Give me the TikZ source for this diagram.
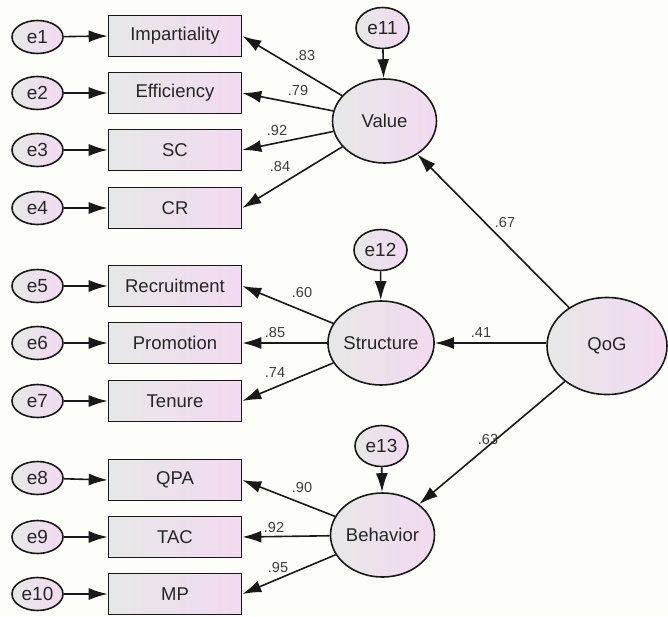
\documentclass[tikz,border=0pt]{standalone}
\usepackage{fontspec}
\setmainfont{Liberation Sans}
\usetikzlibrary{arrows.meta,shapes.geometric}
\definecolor{fillL}{RGB}{230,232,231}
\definecolor{fillR}{RGB}{243,218,241}
\definecolor{bg}{RGB}{253,253,249}
\definecolor{coefc}{RGB}{60,60,60}
\begin{document}
\begin{tikzpicture}[x=1pt,y=-1pt,
  base/.style={draw=black!90, line width=1.6pt, left color=fillL, right color=fillR, inner sep=0pt, text=black!85},
  obs/.style={base, rectangle, minimum width=133pt, minimum height=41pt, font=\fontsize{18.5}{21}\selectfont},
  err/.style={base, ellipse, minimum width=51pt, minimum height=33pt, font=\fontsize{19}{21}\selectfont},
  errt/.style={base, ellipse, minimum width=53pt, minimum height=41pt, font=\fontsize{19}{21}\selectfont},
  lat/.style={base, ellipse, minimum width=104pt, minimum height=84pt, font=\fontsize{18.5}{21}\selectfont},
  arr/.style={-{Latex[length=19pt,width=12pt]}, line width=1.6pt, draw=black!90},
  coef/.style={font=\fontsize{14.5}{16}\selectfont, text=coefc, inner sep=0pt}]
\fill[bg] (0,0) rectangle (668,616);
\useasboundingbox (0,0) rectangle (668,616);

% observed variables
\foreach \n/\t/\y in {b1/Impartiality/36, b2/Efficiency/93, b3/SC/150, b4/CR/208,
  b5/Recruitment/286, b6/Promotion/343, b7/Tenure/401, b8/QPA/480, b9/TAC/537, b10/MP/594}
  {\node[obs] (\n) at (175,\y) {\t};}
% error terms
\foreach \i/\y in {1/37, 2/93, 3/150, 4/208, 5/286, 6/343, 7/401, 8/478, 9/537, 10/594}
  {\node[err] (e\i) at (37.5,\y) {e\i};
   \draw[arr] (e\i) -- (b\i.west);}

% latent variables
\node[lat] (V) at (384.5,121) {Value};
\node[lat] (S) at (381,343) {Structure};
\node[lat] (B) at (382.5,535) {Behavior};
\node[base, ellipse, minimum width=120pt, minimum height=97pt, font=\fontsize{18.5}{21}\selectfont] (Q) at (607,346) {QoG};

\node[errt] (e11) at (382.5,28) {e11};
\node[errt] (e12) at (380.5,250) {e12};
\node[errt] (e13) at (381.5,446) {e13};
\draw[arr] (e11) -- (V);
\draw[arr] (e12) -- (S);
\draw[arr] (e13) -- (B);

\draw[arr] (V) -- (b1.east);
\draw[arr] (V) -- (b2.east);
\draw[arr] (V) -- (b3.east);
\draw[arr] (V) -- (b4.east);
\draw[arr] (S) -- (b5.east);
\draw[arr] (S) -- (b6.east);
\draw[arr] (S) -- (b7.east);
\draw[arr] (B) -- (b8.east);
\draw[arr] (B) -- (b9.east);
\draw[arr] (B) -- (b10.east);

\draw[arr] (Q) -- (V);
\draw[arr] (Q.west |- S) -- (S);
\draw[arr] (Q) -- (B);

% coefficients
\node[coef] (c1) at (305,56) {.83};
\node[coef] (c2) at (298,91) {.79};
\node[coef] (c3) at (277,131) {.92};
\node[coef] (c4) at (280,167) {.84};
\node[coef] (c5) at (505,223) {.67};
\node[coef] (c6) at (302,293) {.60};
\node[coef] (c7) at (275,333) {.85};
\node[coef] (c8) at (275,373) {.74};
\node[coef] (c9) at (481,333) {.41};
\node[coef] (c10) at (488,439) {.63};
\node[coef] (c11) at (302,487) {.90};
\node[coef] (c12) at (274,527) {.92};
\node[coef] (c13) at (278,567) {.95};
\end{tikzpicture}
\end{document}
